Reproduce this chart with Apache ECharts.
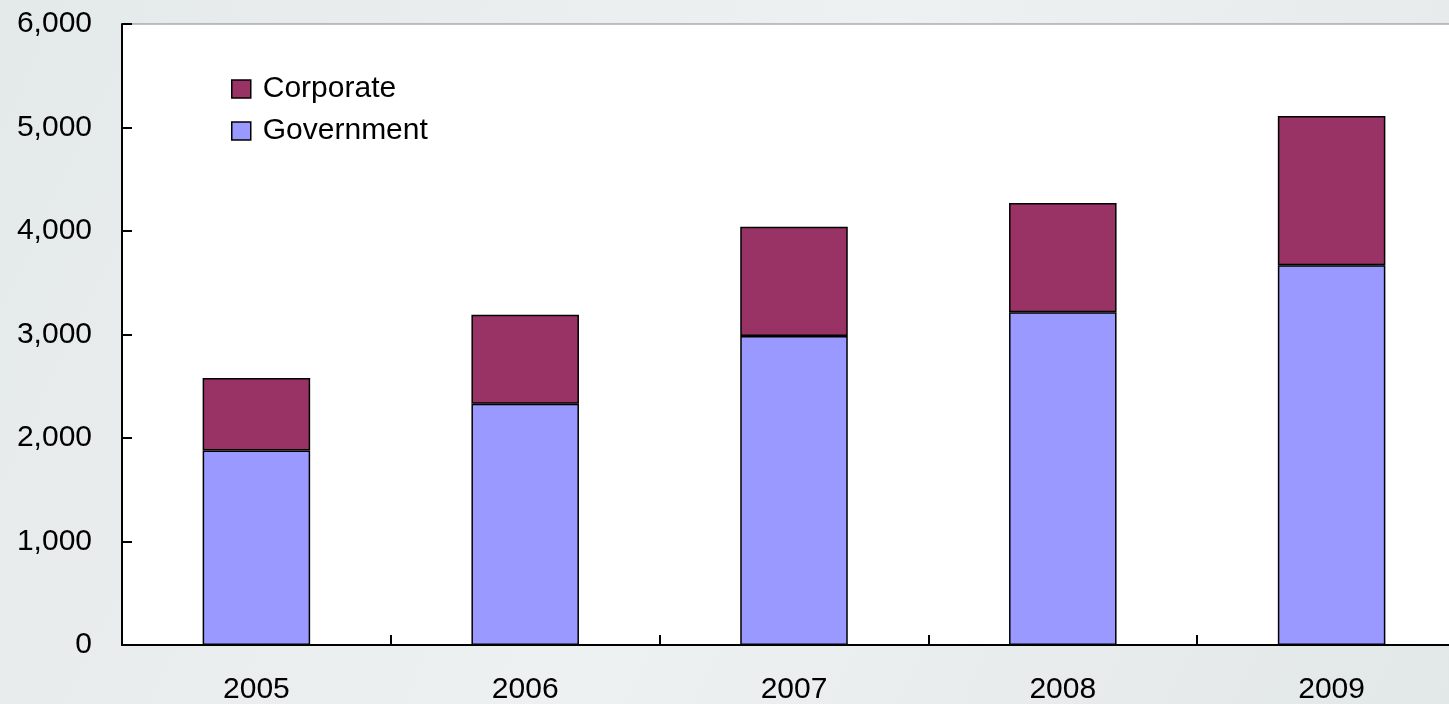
<!DOCTYPE html>
<html>
<head>
<meta charset="utf-8">
<script src="https://cdn.jsdelivr.net/npm/echarts@6/dist/echarts.min.js"></script>
<style>
html,body{margin:0;padding:0;overflow:hidden;width:1449px;height:704px;}
#c{width:1466px;height:704px;}
</style>
</head>
<body>
<div id="c"></div>
<script>
const categories = ['2005','2006','2007','2008','2009'];
const government = [1880, 2330, 2985, 3215, 3670];
const corporate = [700, 860, 1055, 1055, 1440];
const yTicks = [0, 1000, 2000, 3000, 4000, 5000, 6000];

const chart = echarts.init(document.getElementById('c'));
const font = 'Liberation Sans, Arial, sans-serif';
chart.setOption({
  backgroundColor: new echarts.graphic.LinearGradient(0, 0, 1, 1, [
    {offset: 0, color: '#e4e9ea'},
    {offset: 0.5, color: '#eef1f1'},
    {offset: 1, color: '#e2e7e8'}
  ]),
  animation: false,
  grid: {
    left: 122, top: 24, bottom: 59, right: 0,
    outerBoundsMode: 'none', containLabel: false,
    show: true, backgroundColor: '#ffffff', borderColor: '#888888', borderWidth: 1
  },
  legend: {
    orient: 'vertical', left: 231, top: 74, padding: 0,
    itemWidth: 19, itemHeight: 18, itemGap: 12,
    data: ['Corporate', 'Government'],
    textStyle: {fontFamily: font, fontSize: 30, color: '#000', padding: [0, 0, 0, 7]},
    icon: 'rect',
    itemStyle: {borderColor: '#000', borderWidth: 1.5}
  },
  xAxis: {
    type: 'category', data: categories,
    axisLine: {lineStyle: {color: '#000', width: 2}},
    axisTick: {show: true, interval: 0, inside: true, length: 10, lineStyle: {color: '#000', width: 2}},
    axisLabel: {fontFamily: font, fontSize: 30, color: '#000', margin: 30}
  },
  yAxis: {
    type: 'value', min: yTicks[0], max: yTicks[yTicks.length - 1], interval: 1000,
    axisLine: {show: true, lineStyle: {color: '#000', width: 2}},
    axisTick: {show: true, inside: true, length: 10, lineStyle: {color: '#000', width: 2}},
    splitLine: {show: false},
    axisLabel: {fontFamily: font, fontSize: 30, color: '#000', margin: 30,
      formatter: v => v.toLocaleString('en-US')}
  },
  series: [
    {name: 'Government', type: 'bar', stack: 't', data: government, barWidth: '40%',
     itemStyle: {color: '#9999FF', borderColor: '#000', borderWidth: 1.5}},
    {name: 'Corporate', type: 'bar', stack: 't', data: corporate, barWidth: '40%',
     itemStyle: {color: '#993366', borderColor: '#000', borderWidth: 1.5}}
  ]
});
</script>
</body>
</html>
